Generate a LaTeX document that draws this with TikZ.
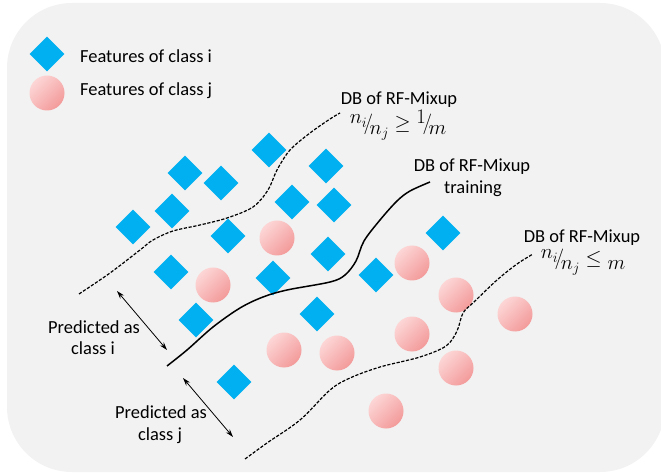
\documentclass[tikz,border=0pt]{standalone}
\usepackage{fontspec}
\setmainfont{Carlito}
\usetikzlibrary{shapes.geometric,arrows.meta}
\definecolor{bgc}{HTML}{F2F2F2}
\definecolor{cyanB}{HTML}{00B0F0}
\definecolor{pinkL}{HTML}{FDD6D6}
\definecolor{pinkD}{HTML}{F39A9A}
\newcommand{\upp}[1]{\raisebox{6bp}{$#1$}}
\newcommand{\dwn}[1]{\raisebox{-4.5bp}{$#1$}}
\newcommand{\skfrac}[2]{\upp{#1}\!\Big/\!\dwn{#2}}
\begin{document}
\begin{tikzpicture}[x=1bp,y=-1bp,
  feati/.style={diamond,fill=cyanB,minimum width=35bp,minimum height=35bp,inner sep=0pt},
  featj/.style={circle,minimum size=35bp,inner sep=0pt,top color=pinkL,bottom color=pinkD,shading angle=45},
  lbl/.style={font=\fontsize{18.5}{22}\selectfont,anchor=base,inner sep=0pt},
  mth/.style={font=\fontsize{20.5}{24}\selectfont,anchor=base,inner sep=0pt},
  dbd/.style={dash pattern=on 3.2bp off 1.6bp,line width=1.2bp},
  dbs/.style={line width=1.5bp},
  dbl/.style={line width=0.8bp,{Stealth[length=8bp,width=5bp]}-{Stealth[length=8bp,width=5bp]}}]
\useasboundingbox (0,0) rectangle (661,474);
\clip (0,0) rectangle (661,474);
\fill[bgc,rounded corners=65bp] (7,3) rectangle (665,472);

% legend
\node[feati] (li) at (47,54) {};
\node[featj] (lj) at (47,93) {};
\node[lbl,anchor=base west] (lti) at (80,63) {Features of class i};
\node[lbl,anchor=base west] (ltj) at (80,96) {Features of class j};

% class i features
\node[feati] (d1) at (269,150) {};
\node[feati] (d2) at (185,173) {};
\node[feati] (d3) at (221,183) {};
\node[feati] (d4) at (326,166) {};
\node[feati] (d5) at (172,211) {};
\node[feati] (d6) at (292,202) {};
\node[feati] (d7) at (334,205) {};
\node[feati] (d8) at (133,227) {};
\node[feati] (d9) at (228,236) {};
\node[feati] (d10) at (328,254) {};
\node[feati] (d11) at (171,272) {};
\node[feati] (d12) at (273,278) {};
\node[feati] (d13) at (376,275) {};
\node[feati] (d14) at (443,233) {};
\node[feati] (d15) at (196,320) {};
\node[feati] (d16) at (317,314) {};
\node[feati] (d17) at (234,382) {};

% class j features
\node[featj] (c1) at (277,238) {};
\node[featj] (c2) at (213,285) {};
\node[featj] (c3) at (412,263) {};
\node[featj] (c4) at (456,295) {};
\node[featj] (c5) at (412,334) {};
\node[featj] (c6) at (515,314) {};
\node[featj] (c7) at (284,350) {};
\node[featj] (c8) at (337,353) {};
\node[featj] (c9) at (456,368) {};
\node[featj] (c10) at (386,411) {};

% decision boundaries
\draw[dbd] plot[smooth,tension=0.55] coordinates {(79,294) (110,273) (140,250) (153,240) (173,231) (200,225) (227,218) (253,207) (268,190) (277,170) (290,150) (310,133) (330,119) (340,113)};
\draw[dbs] plot[smooth,tension=0.55] coordinates {(167,366) (187,350) (213,327) (240,308) (263,297) (287,290) (330,282) (345,275) (356,261) (364,241) (380,220) (397,201) (410,191) (430,182)};
\draw[dbd] plot[smooth,tension=0.55] coordinates {(245,459) (267,443) (300,420) (330,390) (350,378) (380,367) (420,357) (446,346) (457,331) (463,313) (474,302) (497,280) (517,264) (533,254)};

% labels
\node[lbl] (t1a) at (399,105) {DB of RF-Mixup};
\node[mth] (t1b) at (398,130) {$\skfrac{n_i}{n_j}\geq\skfrac{1}{m}$};
\node[lbl] (t2a) at (472,172) {DB of RF-Mixup};
\node[lbl] (t2b) at (473,194) {training};
\node[lbl] (t3a) at (582,243) {DB of RF-Mixup};
\node[mth] (t3b) at (583,265) {$\skfrac{n_i}{n_j}\leq\dwn{m}$};

\node[lbl] (p1a) at (94,333) {Predicted as};
\node[lbl] (p1b) at (93,354) {class i};
\node[lbl] (p2a) at (161,418) {Predicted as};
\node[lbl] (p2b) at (160,440) {class j};

% arrows
\coordinate (a1s) at (117,291);
\coordinate (a1e) at (167,350);
\coordinate (a2s) at (183,378);
\coordinate (a2e) at (233,437);
\draw[dbl] (a1s) -- (a1e);
\draw[dbl] (a2s) -- (a2e);
\end{tikzpicture}
\end{document}
